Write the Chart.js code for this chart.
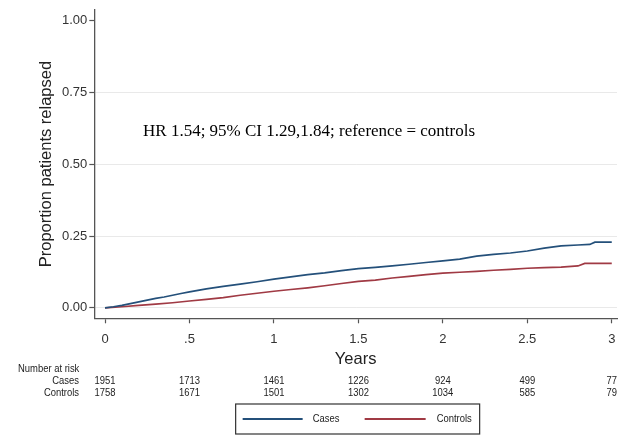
<!DOCTYPE html>
<html><head><meta charset="utf-8">
<script src="https://cdn.jsdelivr.net/npm/chart.js@4.4.0/dist/chart.umd.min.js"></script>
<style>html,body{margin:0;padding:0;background:#fff;overflow:hidden}</style>
</head><body>
<canvas id="c" width="628" height="445"></canvas>
<script>
// ---- data ----
const seriesNames = ['Cases', 'Controls'];
const casesX = [0, 0.05, 0.1, 0.15, 0.2, 0.25, 0.3, 0.35, 0.4, 0.45, 0.5, 0.6, 0.7, 0.8, 0.9, 1.0, 1.1, 1.2, 1.3, 1.4, 1.5, 1.6, 1.7, 1.8, 1.9, 2.0, 2.1, 2.2, 2.3, 2.4, 2.5, 2.6, 2.7, 2.8, 2.87, 2.9, 3.0];
const casesY = [0, 0.004, 0.009, 0.015, 0.021, 0.027, 0.033, 0.038, 0.044, 0.050, 0.056, 0.066, 0.075, 0.083, 0.091, 0.100, 0.108, 0.116, 0.122, 0.130, 0.137, 0.141, 0.146, 0.152, 0.158, 0.164, 0.170, 0.180, 0.186, 0.191, 0.198, 0.208, 0.216, 0.219, 0.221, 0.229, 0.229];
const controlsX = [0, 0.1, 0.2, 0.3, 0.4, 0.5, 0.6, 0.7, 0.8, 0.9, 1.0, 1.1, 1.2, 1.3, 1.4, 1.5, 1.6, 1.7, 1.8, 1.9, 2.0, 2.1, 2.2, 2.3, 2.4, 2.5, 2.6, 2.7, 2.8, 2.84, 3.0];
const controlsY = [0, 0.004, 0.009, 0.013, 0.018, 0.024, 0.030, 0.036, 0.044, 0.051, 0.058, 0.064, 0.070, 0.077, 0.085, 0.092, 0.097, 0.104, 0.110, 0.116, 0.121, 0.124, 0.127, 0.131, 0.134, 0.138, 0.140, 0.142, 0.146, 0.155, 0.155];
const xTickValues = [0, 0.5, 1, 1.5, 2, 2.5, 3];
const xTickLabels = ['0', '.5', '1', '1.5', '2', '2.5', '3'];
const yTickValues = [0, 0.25, 0.5, 0.75, 1];
const yTickLabels = ['0.00', '0.25', '0.50', '0.75', '1.00'];
const riskTimes = [0, 0.5, 1, 1.5, 2, 2.5, 3];
const riskCases = [1951, 1713, 1461, 1226, 924, 499, 77];
const riskControls = [1758, 1671, 1501, 1302, 1034, 585, 79];
const annotationText = 'HR 1.54; 95% CI 1.29,1.84; reference = controls';
const xAxisTitle = 'Years';
const yAxisTitle = 'Proportion patients relapsed';
const riskHeader = 'Number at risk';

// ---- styling ----
const colors = ['#24507a', '#a03a44'];
const axisColor = '#555555';
const gridColor = '#e9e9e9';
const sans = "'Liberation Sans', Arial, sans-serif";
const condense = 0.82;

function toPoints(xs, ys) { return xs.map((x, i) => ({ x: x, y: ys[i] })); }

function narrowText(ctx, text, x, y, align) {
  ctx.save();
  ctx.translate(x, y);
  ctx.scale(condense, 1);
  ctx.textAlign = align;
  ctx.fillText(text, 0, 0);
  ctx.restore();
}

const overlay = {
  id: 'overlay',
  afterDraw(chart) {
    const ctx = chart.ctx;
    const xs = chart.scales.x, ys = chart.scales.y;
    ctx.save();
    // annotation
    ctx.fillStyle = '#000';
    ctx.font = "17px 'Liberation Serif', 'Times New Roman', serif";
    ctx.textAlign = 'left';
    ctx.textBaseline = 'middle';
    ctx.fillText(annotationText, xs.getPixelForValue(0.225), ys.getPixelForValue(0.614));

    // risk table
    ctx.fillStyle = '#222';
    ctx.font = '11.5px ' + sans;
    ctx.textBaseline = 'middle';
    narrowText(ctx, riskHeader, 18, 369, 'left');
    narrowText(ctx, seriesNames[0], 79, 381, 'right');
    narrowText(ctx, seriesNames[1], 79, 393, 'right');
    riskTimes.forEach((t, i) => {
      const px = xs.getPixelForValue(t);
      narrowText(ctx, String(riskCases[i]), px, 381, 'center');
      narrowText(ctx, String(riskControls[i]), px, 393, 'center');
    });

    // legend
    const cx = (xs.left + xs.right) / 2 + 2;
    const bl = cx - 122, bw = 244, bt = 404, bh = 30;
    ctx.strokeStyle = '#333';
    ctx.lineWidth = 1.2;
    ctx.strokeRect(bl, bt, bw, bh);
    const items = [
      { x0: bl + 7, x1: bl + 67, tx: bl + 77 },
      { x0: bl + 129, x1: bl + 190, tx: bl + 201 }
    ];
    items.forEach((it, i) => {
      ctx.strokeStyle = colors[i];
      ctx.lineWidth = 1.8;
      ctx.beginPath();
      ctx.moveTo(it.x0, bt + 15);
      ctx.lineTo(it.x1, bt + 15);
      ctx.stroke();
      ctx.fillStyle = '#222';
      narrowText(ctx, seriesNames[i], it.tx, bt + 15, 'left');
    });
    ctx.restore();
  }
};

new Chart(document.getElementById('c'), {
  type: 'line',
  data: {
    datasets: [
      { label: seriesNames[0], data: toPoints(casesX, casesY), borderColor: colors[0], backgroundColor: colors[0], borderWidth: 1.7, pointRadius: 0, tension: 0, fill: false },
      { label: seriesNames[1], data: toPoints(controlsX, controlsY), borderColor: colors[1], backgroundColor: colors[1], borderWidth: 1.7, pointRadius: 0, tension: 0, fill: false }
    ]
  },
  options: {
    responsive: false,
    animation: false,
    devicePixelRatio: 1,
    layout: { padding: { left: 0, right: 11, top: 4, bottom: 0 } },
    plugins: { legend: { display: false }, tooltip: { enabled: false } },
    scales: {
      x: {
        type: 'linear',
        min: -0.0634,
        max: 3.031,
        afterBuildTicks(axis) { axis.ticks = xTickValues.map(v => ({ value: v })); },
        afterFit(axis) { axis.height = 126.7; },
        ticks: {
          color: '#333',
          font: { family: sans, size: 13 },
          padding: 8,
          maxRotation: 0,
          autoSkip: false,
          callback(value) { const i = xTickValues.indexOf(value); return i >= 0 ? xTickLabels[i] : ''; }
        },
        grid: { drawOnChartArea: false, drawTicks: true, tickLength: 5, tickColor: axisColor, tickWidth: 1.2 },
        border: { display: true, color: axisColor, width: 1.3 },
        title: { display: true, text: xAxisTitle, color: '#222', font: { family: sans, size: 16.5 }, padding: { top: 0, bottom: 76 } }
      },
      y: {
        type: 'linear',
        min: -0.0362,
        max: 1.0376,
        afterBuildTicks(axis) { axis.ticks = yTickValues.map(v => ({ value: v })); },
        afterFit(axis) { axis.width = 94.3; },
        ticks: {
          color: '#333',
          font: { family: sans, size: 13 },
          padding: 2,
          autoSkip: false,
          callback(value) { const i = yTickValues.indexOf(value); return i >= 0 ? yTickLabels[i] : ''; }
        },
        grid: {
          drawOnChartArea: true,
          color(ctx) { return ctx.tick && ctx.tick.value === 1 ? 'rgba(0,0,0,0)' : gridColor; },
          lineWidth: 1,
          drawTicks: true, tickLength: 5, tickColor: axisColor, tickWidth: 1.2
        },
        border: { display: true, color: axisColor, width: 1.3 },
        title: { display: true, text: yAxisTitle, color: '#222', font: { family: sans, size: 16.5 }, padding: { top: 37, bottom: 0 } }
      }
    }
  },
  plugins: [overlay]
});
</script>
</body></html>
